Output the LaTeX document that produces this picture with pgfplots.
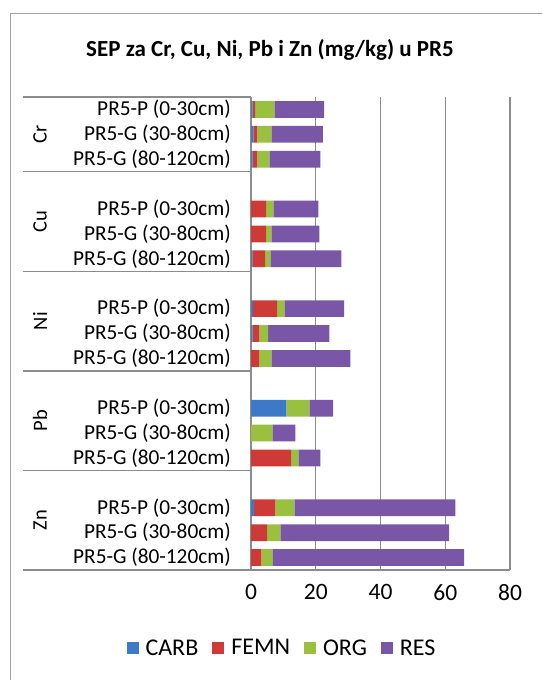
\documentclass[border=0pt]{standalone}
\usepackage{pgfplots}
\pgfplotsset{compat=1.18}
\usepackage{pgfplotstable}
\usepackage{fontspec}
\setmainfont{Carlito}
\definecolor{cCARB}{HTML}{3C7AC8}
\definecolor{cFEMN}{HTML}{CE3A36}
\definecolor{cORG}{HTML}{99C13F}
\definecolor{cRES}{HTML}{7A56A6}
\definecolor{gridc}{HTML}{8C8C8C}
\pgfplotstableread{
y CARB FEMN ORG RES
18 0.5 0.8 5.9 15.4
17 0.7 1.3 4.3 15.9
16 0.5 1.5 3.7 15.7
14 0.0 4.7 2.2 13.9
13 0.0 4.7 1.6 14.8
12 0.4 4.0 1.6 21.9
10 0.6 7.5 2.2 18.5
9 0.5 2.1 2.7 18.9
8 0.0 2.6 3.7 24.4
6 10.9 0.0 7.1 7.4
5 0.0 0.0 6.6 7.1
4 0.0 12.4 2.2 6.8
2 1.0 6.5 5.9 49.7
1 0.0 5.0 4.1 52.1
0 0.0 3.2 3.4 59.2
}\datatable
\begin{document}
\begin{tikzpicture}
\useasboundingbox (0,0) rectangle (542pt,-680pt);
\draw[gridc!80, line width=1.2pt] (10.5pt,-680pt) -- (10.5pt,-13.5pt) -- (542pt,-13.5pt);
\node[font=\bfseries\fontsize{23}{26}\selectfont] at (270pt,-50pt) {SEP za Cr, Cu, Ni, Pb i Zn (mg/kg) u PR5};
\begin{axis}[
  at={(251pt,-570pt)}, anchor=south west,
  scale only axis, width=259pt, height=473pt,
  xbar stacked, bar width=16.7pt,
  xmin=0, xmax=80, ymin=-0.5, ymax=18.5,
  xtick={0,20,40,60,80},
  ytick={0,1,2,4,5,6,8,9,10,12,13,14,16,17,18},
  yticklabels={PR5-G (80-120cm),PR5-G (30-80cm),PR5-P (0-30cm),
               PR5-G (80-120cm),PR5-G (30-80cm),PR5-P (0-30cm),
               PR5-G (80-120cm),PR5-G (30-80cm),PR5-P (0-30cm),
               PR5-G (80-120cm),PR5-G (30-80cm),PR5-P (0-30cm),
               PR5-G (80-120cm),PR5-G (30-80cm),PR5-P (0-30cm)},
  axis x line*=bottom, axis y line*=left,
  axis line style={draw=gridc, line width=1.4pt, -},
  major tick length=0pt,
  xmajorgrids, major grid style={draw=gridc, line width=1.4pt},
  /pgf/number format/assume math mode=true,
  yticklabel style={font=\fontsize{21.3}{24}\selectfont, anchor=east, inner sep=0pt, xshift=-20pt},
  xticklabel style={font=\fontsize{23.5}{26}\selectfont, yshift=-11pt},
  clip=false,
  legend style={at={(0.1197,-0.1649)}, anchor=center, draw=none,
    font=\fontsize{24}{27}\selectfont, legend columns=4,
    /tikz/every odd column/.append style={column sep=5pt},
    /tikz/every even column/.append style={column sep=12pt}},
  legend image code/.code={\fill[#1] (0pt,-6pt) rectangle (12pt,6pt);},
]
\addplot[fill=cCARB, draw=none] table[x=CARB, y=y] {\datatable};
\addplot[fill=cFEMN, draw=none] table[x=FEMN, y=y] {\datatable};
\addplot[fill=cORG, draw=none] table[x=ORG, y=y] {\datatable};
\addplot[fill=cRES, draw=none] table[x=RES, y=y] {\datatable};
\legend{CARB,FEMN,ORG,RES}
\pgfplotsinvokeforeach{-0.5,3.5,7.5,11.5,15.5,18.5}{
  \draw[gridc, line width=1.4pt] (axis cs:0,#1) -- ++(-228pt,0pt);
}
\node[rotate=90, font=\fontsize{20.5}{23}\selectfont] at ([xshift=-211pt]axis cs:0,17) {Cr};
\node[rotate=90, font=\fontsize{20.5}{23}\selectfont] at ([xshift=-211pt]axis cs:0,13.5) {Cu};
\node[rotate=90, font=\fontsize{20.5}{23}\selectfont] at ([xshift=-211pt]axis cs:0,9.5) {Ni};
\node[rotate=90, font=\fontsize{20.5}{23}\selectfont] at ([xshift=-211pt]axis cs:0,5.5) {Pb};
\node[rotate=90, font=\fontsize{20.5}{23}\selectfont] at ([xshift=-211pt]axis cs:0,1.5) {Zn};
\end{axis}
\end{tikzpicture}
\end{document}
